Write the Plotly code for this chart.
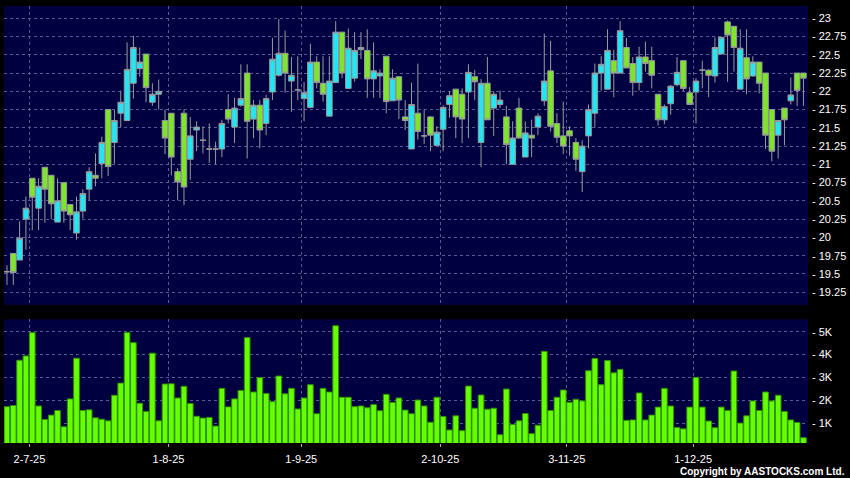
import plotly.graph_objects as go

# ── Datos ─────────────────────────────────────────────────────────────────

opens = [
    19.53, 19.78, 19.69, 20.25, 20.81, 20.40, 20.96, 20.85, 20.21, 20.75,
    20.45, 20.06, 20.36, 20.66, 20.85, 21.01, 21.75, 21.30, 21.70, 21.60,
    22.11, 22.31, 22.51, 21.85, 21.96, 21.60, 21.70, 20.90, 21.70, 21.07,
    21.47, 21.33, 21.21, 21.21, 21.21, 21.75, 21.51, 21.81, 22.25, 21.62,
    21.81, 21.56, 21.99, 22.22, 22.52, 22.14, 22.02, 21.90, 21.78, 22.40,
    22.11, 21.66, 22.12, 22.81, 22.04, 22.18, 22.57, 22.56, 22.17, 22.21,
    22.48, 21.87, 22.20, 21.65, 21.21, 21.70, 21.39, 21.65, 21.26, 21.48,
    21.82, 22.03, 21.96, 21.99, 22.20, 21.30, 22.11, 21.77, 21.82, 21.65,
    21.00, 21.77, 21.10, 21.40, 21.51, 21.87, 22.28, 21.56, 21.39, 21.46,
    21.30, 20.90, 21.39, 21.70, 22.25, 22.03, 22.42, 22.25, 22.60, 22.38,
    22.12, 22.47, 22.42, 21.96, 21.61, 21.83, 22.09, 22.42, 21.98, 21.99,
    22.29, 22.29, 22.21, 22.51, 22.95, 22.89, 22.03, 22.46, 22.21, 22.40,
    22.25, 21.75, 21.40, 21.77, 21.87, 22.25, 22.25,
]
closes = [
    19.53, 19.52, 19.99, 20.40, 20.55, 20.70, 20.66, 20.46, 20.50, 20.36,
    20.31, 20.35, 20.60, 20.90, 20.81, 21.30, 20.97, 21.60, 21.85, 22.30,
    22.60, 22.40, 22.05, 21.96, 22.00, 21.36, 21.10, 20.76, 20.69, 21.39,
    21.51, 21.33, 21.21, 21.21, 21.56, 21.62, 21.77, 21.90, 21.59, 21.81,
    21.47, 21.90, 22.44, 22.52, 22.25, 22.22, 22.02, 21.98, 22.40, 22.12,
    21.96, 22.14, 22.81, 22.25, 22.59, 22.56, 22.60, 22.17, 22.28, 22.25,
    21.86, 22.18, 21.88, 21.60, 21.82, 21.45, 21.39, 21.40, 21.44, 21.78,
    21.94, 21.65, 21.62, 22.26, 22.13, 22.11, 21.61, 21.96, 21.88, 21.27,
    21.36, 21.36, 21.43, 21.36, 21.66, 22.14, 21.52, 21.37, 21.25, 21.39,
    21.07, 21.25, 21.75, 22.25, 22.37, 22.56, 22.25, 22.83, 22.32, 22.12,
    22.47, 22.38, 22.22, 21.61, 21.79, 22.07, 22.26, 22.04, 21.82, 22.14,
    22.29, 22.22, 22.60, 22.74, 22.77, 22.60, 22.59, 22.17, 22.40, 22.11,
    21.40, 21.18, 21.60, 21.61, 21.95, 22.01, 22.18,
]
highs = [
    19.62, 19.78, 20.22, 20.56, 20.81, 20.81, 20.96, 20.85, 20.81, 20.75,
    20.45, 20.56, 20.66, 20.96, 21.15, 21.38, 21.75, 21.75, 22.01, 22.67,
    22.76, 22.60, 22.51, 22.11, 22.16, 21.75, 21.70, 20.95, 21.75, 21.65,
    21.59, 21.52, 21.56, 21.31, 21.61, 21.96, 21.91, 22.37, 22.37, 21.88,
    21.88, 21.95, 22.73, 22.99, 22.83, 22.47, 22.48, 22.13, 22.65, 22.48,
    22.48, 22.48, 22.96, 22.81, 22.86, 22.81, 22.81, 22.85, 22.67, 22.30,
    22.48, 22.30, 22.20, 21.88, 22.12, 22.38, 21.75, 21.66, 21.52, 21.81,
    22.00, 22.03, 22.04, 22.37, 22.29, 22.17, 22.47, 22.00, 22.01, 21.80,
    21.59, 21.91, 21.59, 21.61, 21.70, 22.79, 22.69, 21.70, 21.86, 21.52,
    21.36, 21.33, 21.82, 22.38, 22.48, 22.85, 22.57, 22.96, 22.73, 22.47,
    22.61, 22.68, 22.61, 21.96, 21.82, 22.09, 22.47, 22.42, 22.06, 22.18,
    22.42, 22.30, 22.74, 22.74, 22.97, 22.89, 22.85, 22.85, 22.48, 22.40,
    22.25, 21.75, 21.60, 21.77, 22.19, 22.25, 22.25,
]
lows = [
    19.35, 19.35, 19.69, 19.83, 20.10, 20.10, 20.20, 20.25, 20.21, 20.20,
    20.10, 19.97, 20.26, 20.51, 20.70, 20.81, 20.84, 21.01, 21.51, 21.60,
    21.90, 22.20, 21.85, 21.80, 21.75, 21.14, 20.85, 20.51, 20.44, 20.79,
    21.18, 21.15, 21.02, 21.00, 21.10, 21.56, 21.29, 21.79, 21.08, 21.36,
    21.22, 21.40, 21.88, 22.20, 21.98, 21.72, 21.88, 21.59, 21.78, 22.04,
    21.86, 21.66, 22.12, 22.18, 22.04, 22.13, 22.44, 21.91, 21.91, 21.91,
    21.70, 21.87, 21.62, 21.47, 21.21, 21.34, 21.28, 21.18, 21.26, 21.18,
    21.64, 21.36, 21.29, 21.36, 21.88, 20.96, 21.61, 21.39, 21.77, 21.00,
    21.00, 21.36, 21.10, 21.10, 21.40, 21.80, 21.45, 21.29, 21.14, 21.12,
    20.91, 20.62, 21.22, 21.51, 22.01, 22.03, 21.92, 22.25, 22.32, 21.94,
    22.01, 22.27, 22.04, 21.53, 21.55, 21.68, 22.07, 22.00, 21.81, 21.56,
    22.04, 21.92, 22.12, 22.51, 22.13, 22.27, 22.03, 21.96, 22.20, 21.97,
    21.21, 21.04, 21.08, 21.26, 21.82, 21.80, 21.80,
]
volumes_k = [
    1.72, 1.77, 3.75, 3.94, 4.96, 1.75, 1.16, 1.35, 1.55, 0.84,
    2.06, 3.84, 1.55, 1.58, 1.23, 1.17, 1.10, 2.22, 2.75, 4.96,
    4.52, 1.87, 1.51, 4.06, 1.10, 2.71, 2.72, 2.10, 2.61, 1.86,
    1.30, 1.22, 1.25, 0.87, 2.52, 1.71, 2.06, 2.43, 4.74, 2.36,
    2.99, 2.30, 1.94, 3.06, 2.28, 2.52, 1.62, 2.10, 2.68, 1.41,
    2.52, 2.36, 5.26, 2.13, 2.13, 1.72, 1.75, 1.67, 1.81, 1.54,
    2.26, 1.90, 2.10, 1.57, 1.41, 2.01, 1.75, 1.04, 2.13, 1.29,
    0.70, 1.32, 0.67, 2.62, 1.65, 2.23, 1.61, 1.65, 0.49, 2.49,
    0.94, 1.10, 1.42, 0.54, 0.91, 4.14, 1.55, 2.13, 2.45, 1.91,
    2.04, 1.97, 3.29, 3.83, 2.68, 3.74, 3.20, 3.35, 1.12, 1.14,
    2.32, 1.14, 1.35, 1.70, 2.52, 1.75, 0.81, 0.75, 1.70, 3.00,
    1.70, 1.09, 0.80, 1.70, 1.55, 3.28, 1.00, 1.32, 1.97, 1.55,
    2.36, 1.97, 2.22, 1.51, 1.14, 1.03, 0.36,
]

# sesión de cada etiqueta de fecha (índice de día hábil)
label_days = [4, 26, 47, 69, 89, 109]
date_labels = ["2-7-25", "1-8-25", "1-9-25", "2-10-25", "3-11-25", "1-12-25"]

price_ticks = [19.25, 19.5, 19.75, 20, 20.25, 20.5, 20.75, 21, 21.25,
               21.5, 21.75, 22, 22.25, 22.5, 22.75, 23]
volume_ticks = [1, 2, 3, 4, 5]

days = list(range(len(opens)))

# ── Tema ──────────────────────────────────────────────────────────────────

BG_PLOT = "#000040"
GRID = "#5a5a96"
FONT = dict(family="Arial, Liberation Sans, sans-serif", color="#ffffff", size=11)
CYAN = "#22e6f4"
GREEN = "#7ee62a"
VOL_FILL = "#66ff00"
VOL_LINE = "#2f8f00"
WICK = "#9a9a9a"

grid_x = [d - 0.45 for d in label_days]


def _eje_y(domain, rango, ticks, textos):
    return dict(
        domain=domain,
        range=rango,
        side="right",
        tickvals=ticks,
        ticktext=textos,
        showgrid=True,
        gridcolor=GRID,
        griddash="3px,3px",
        gridwidth=1,
        zeroline=False,
        showline=False,
        ticks="",
        ticklabelstandoff=3,
        tickfont=FONT,
    )


fig = go.Figure()

fig.add_trace(go.Candlestick(
    x=days,
    open=opens,
    high=highs,
    low=lows,
    close=closes,
    increasing=dict(fillcolor=CYAN, line=dict(color=WICK, width=1)),
    decreasing=dict(fillcolor=GREEN, line=dict(color=WICK, width=1)),
    whiskerwidth=0,
    xaxis="x",
    yaxis="y",
    showlegend=False,
))

fig.add_trace(go.Bar(
    x=days,
    y=volumes_k,
    marker=dict(color=VOL_FILL, line=dict(color=VOL_LINE, width=1)),
    xaxis="x2",
    yaxis="y2",
    showlegend=False,
))

x_range = [-0.47, 126.72]

fig.update_layout(
    width=850,
    height=478,
    paper_bgcolor="#000000",
    plot_bgcolor=BG_PLOT,
    font=FONT,
    margin=dict(l=4, r=38, t=6, b=35),
    bargap=0.1,
    boxgap=0.12,
    boxgroupgap=0,
    xaxis=dict(
        domain=[0, 1],
        range=x_range,
        anchor="y",
        tickvals=grid_x,
        showticklabels=False,
        showgrid=True,
        gridcolor=GRID,
        griddash="3px,3px",
        zeroline=False,
        rangeslider=dict(visible=False),
    ),
    xaxis2=dict(
        domain=[0, 1],
        range=x_range,
        anchor="y2",
        tickvals=grid_x,
        ticktext=date_labels,
        ticks="outside",
        ticklen=3,
        tickcolor="#aaaaaa",
        ticklabelstandoff=3,
        showgrid=True,
        gridcolor=GRID,
        griddash="3px,3px",
        zeroline=False,
        tickfont=FONT,
    ),
    yaxis=_eje_y([0.316, 1], [19.076, 23.168], price_ticks,
                 [f"- {v:g}" for v in price_ticks]),
    yaxis2=_eje_y([0, 0.283], [0.13, 5.54], volume_ticks,
                  [f"- {v}K" for v in volume_ticks]),
    annotations=[dict(
        text="Copyright by AASTOCKS.com Ltd.",
        xref="paper", yref="paper",
        x=1.049, y=-0.066,
        xanchor="right", yanchor="middle",
        showarrow=False,
        font=dict(family="Arial, Liberation Sans, sans-serif",
                  color="#ffffff", size=10, weight="bold"),
    )],
)

# sin el margen por defecto del <body>, la figura ocupa la ventana exacta
fig.write_html(
    "out.html",
    config={"displayModeBar": False},
    post_script="document.body.style.margin='0';",
)
